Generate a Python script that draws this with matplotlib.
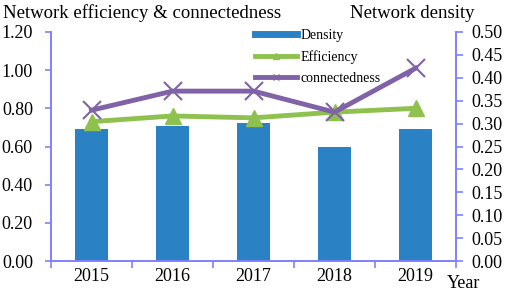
import numpy as np
import matplotlib.pyplot as plt
from matplotlib.lines import Line2D

years = ['2015', '2016', '2017', '2018', '2019']
density = [0.288, 0.295, 0.301, 0.249, 0.288]
efficiency = [0.73, 0.76, 0.75, 0.78, 0.80]
connectedness = [0.79, 0.89, 0.89, 0.78, 1.01]

blue = '#2a81c4'
green = '#8fc14f'
purple = '#8062a6'
axcol = '#8080ff'

plt.rcParams['font.family'] = 'Liberation Serif'

fig = plt.figure(figsize=(5.05, 2.93), dpi=100)
ax = fig.add_axes([0.101, 0.109, 0.802, 0.782])
ax2 = ax.twinx()

x = np.arange(len(years))
ax2.bar(x, density, width=0.4, color=blue, zorder=1)
ax.plot(x, efficiency, color=green, lw=3.5, marker='^', ms=12, zorder=3)
ax.plot(x, connectedness, color=purple, lw=3.5, marker='x', ms=13, mew=1.5, zorder=4)

# lines on top of bars
ax.set_zorder(ax2.get_zorder() + 1)
ax.patch.set_visible(False)

ax.set_xlim(-0.5, 4.5)
ax.set_ylim(0, 1.2)
ax2.set_ylim(0, 0.5)
ax.set_yticks(np.arange(0, 1.21, 0.2))
ax.set_yticklabels(['%.2f' % v for v in np.arange(0, 1.21, 0.2)])
ax2.set_yticks(np.arange(0, 0.501, 0.05))
ax2.set_yticklabels(['%.2f' % v for v in np.arange(0, 0.501, 0.05)])

ax.set_xticks(x)
ax.set_xticklabels(years)
ax.set_xticks(np.arange(-0.5, 5, 1), minor=True)
ax.tick_params(axis='x', which='major', length=0, labelsize=13, pad=5)
ax.tick_params(axis='x', which='minor', length=5, color=axcol, width=1.2)
ax.tick_params(axis='y', length=4, color=axcol, width=1.2, labelsize=13, pad=9)
ax2.tick_params(axis='y', length=5, color=axcol, width=1.2, labelsize=13, pad=6)

for a in (ax, ax2):
    a.spines['top'].set_visible(False)
    for s in ('left', 'right', 'bottom'):
        a.spines[s].set_color(axcol)
        a.spines[s].set_linewidth(1.2)

handles = [Line2D([], [], color=blue, lw=5),
           Line2D([], [], color=green, lw=3.5, marker='^', ms=5),
           Line2D([], [], color=purple, lw=3.5, marker='x', ms=5)]
fig.legend(handles, ['Density', 'Efficiency', 'connectedness'],
           loc='upper left', bbox_to_anchor=(0.48, 0.945), frameon=False,
           fontsize=10, handlelength=3.0, handletextpad=0.3, labelspacing=0.6)

fig.text(0.006, 0.955, 'Network efficiency & connectedness', fontsize=13.5, va='center')
fig.text(0.693, 0.955, 'Network density', fontsize=13.5, va='center')
fig.text(0.885, 0.033, 'Year', fontsize=13, va='center')

fig.savefig('out.png', dpi=100)
